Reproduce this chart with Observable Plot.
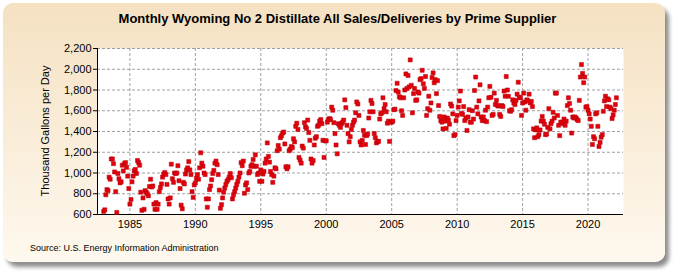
<!DOCTYPE html>
<html>
<head>
<meta charset="utf-8">
<script src="https://cdn.jsdelivr.net/npm/d3@7"></script>
<script src="https://cdn.jsdelivr.net/npm/@observablehq/plot@0.6"></script>
<style>
body{margin:0;background:#fff;font-family:"Liberation Sans",Arial,sans-serif;}
#wrap{position:relative;width:675px;height:275px;overflow:hidden;}
#panel{position:absolute;left:3px;top:3px;width:662px;height:259px;border-radius:10px;background:linear-gradient(#F5E1C2,#FEF8EE);box-shadow:4px 5px 4px rgba(0,0,0,0.45);}
#title{position:absolute;left:0;width:675px;top:11px;text-align:center;font-weight:bold;font-size:13px;color:#000;}
#ylabel{position:absolute;left:45px;top:131px;transform:translate(-50%,-50%) rotate(-90deg);white-space:nowrap;font-size:11px;color:#000;}
#source{position:absolute;left:30px;top:243px;font-size:9px;color:#000;}
#chart{position:absolute;left:0;top:0;}
</style>
</head>
<body>
<div id="wrap">
  <div id="panel"></div>
  <div id="title">Monthly Wyoming No 2 Distillate All Sales/Deliveries by Prime Supplier</div>
  <div id="chart"></div>
  <div id="ylabel">Thousand Gallons per Day</div>
  <div id="source">Source: U.S. Energy Information Administration</div>
</div>
<script>
// Monthly values (thousand gallons per day), starting January 1983
const values1983to1989 = [
  630, 645, 790, 840, 830, 960, 940, 1135, 1135, 1090, 1010, 820,
  620, 995, 945, 905, 915, 1075, 1020, 1090, 1100, 1055, 970, 850,
  700, 745, 915, 970, 1020, 1035, 995, 1120, 1100, 1075, 815, 640,
  760, 650, 830, 815, 800, 780, 870, 940, 865, 875, 700, 650,
  715, 650, 700, 820, 860, 895, 960, 990, 1005, 985, 890, 750,
  700, 760, 1085, 945, 910, 1000, 995, 1000, 1070, 925, 850, 690,
  655, 910, 895, 990, 1030, 1050, 1110, 1030, 985, 820, 765, 885
];
const values1990to1999 = [
  905, 950, 985, 940, 1050, 1195, 1095, 1065, 1000, 985, 750, 670,
  750, 840, 875, 935, 995, 1025, 1095, 1115, 1080, 985, 835, 660,
  695, 760, 815, 855, 890, 920, 935, 960, 995, 955, 750, 790,
  820, 855, 890, 920, 960, 1000, 1100, 1070, 1115, 805, 885, 905,
  840, 1000, 1015, 1065, 1080, 1130, 1065, 1175, 1065, 985, 1000, 920,
  1030, 920, 990, 1015, 1095, 1135, 1290, 1160, 1105, 1015, 985, 910,
  970, 1050, 1040, 1215, 1265, 1230, 1340, 1360, 1385, 1395, 1280, 1060,
  1040, 1060, 1215, 1230, 1255, 1245, 1330, 1300, 1450, 1480, 1420, 1150,
  1125, 1095, 1260, 1240, 1485, 1445, 1430, 1510, 1390, 1315, 1135, 1095,
  1120, 1270, 1335, 1350, 1450, 1460, 1500, 1515, 1475, 1315, 1150, 1310
];
const values2000to2009 = [
  1310, 1490, 1515, 1525, 1515, 1635, 1605, 1485, 1380, 1270, 1185, 1475,
  1460, 1440, 1475, 1490, 1510, 1705, 1630, 1460, 1380, 1300, 1350, 1420,
  1460, 1490, 1510, 1580, 1685, 1665, 1555, 1300, 1270, 1315, 1410, 1365,
  1275, 1360, 1375, 1530, 1590, 1700, 1670, 1590, 1380, 1340, 1290, 1305,
  1305, 1520, 1570, 1580, 1725, 1620, 1660, 1590, 1480, 1500, 1305, 1490,
  1490, 1500, 1610, 1615, 1795, 1865, 1780, 1735, 1725, 1600, 1555, 1725,
  1800, 1955, 1815, 1940, 1830, 2090, 1845, 1580, 1765, 1815, 1700, 1705,
  1780, 1770, 1900, 1910, 1990, 1860, 1815, 1930, 1555, 1620, 1740, 1605,
  1675, 1920, 1965, 1870, 1900, 1765, 1890, 1650, 1545, 1505, 1490, 1425,
  1540, 1500, 1430, 1530, 1510, 1470, 1665, 1645, 1570, 1360, 1370, 1505
];
const values2010to2019 = [
  1555, 1635, 1695, 1790, 1575, 1565, 1640, 1505, 1530, 1410, 1540, 1610,
  1490, 1490, 1600, 1520, 1795, 1925, 1635, 1570, 1695, 1850, 1540, 1505,
  1540, 1505, 1605, 1495, 1635, 1725, 1835, 1730, 1555, 1565, 1770, 1660,
  1700, 1650, 1645, 1565, 1545, 1650, 1640, 1790, 1740, 1930, 1800, 1740,
  1600, 1595, 1610, 1705, 1675, 1660, 1700, 1760, 1875, 1730, 1725, 1555,
  1675, 1770, 1685, 1605, 1705, 1695, 1760, 1675, 1690, 1640, 1425, 1340,
  1415, 1435, 1350, 1370, 1415, 1500, 1545, 1500, 1470, 1370, 1375, 1440,
  1620, 1425, 1475, 1500, 1585, 1530, 1770, 1770, 1555, 1460, 1360, 1490,
  1490, 1475, 1520, 1460, 1500, 1650, 1725, 1670, 1605, 1385, 1540, 1530,
  1540, 1530, 1515, 1505, 1700, 1925, 2045, 1960, 1870, 1925, 1635, 1640
];
const values2020to2022 = [
  1605, 1570, 1520, 1450, 1275, 1350, 1330, 1570, 1580, 1450, 1255, 1295,
  1345, 1370, 1595, 1695, 1740, 1640, 1715, 1705, 1635, 1620, 1525, 1560,
  1605, 1660, 1725
];
const startYear = 1983;
const yTicks = [600, 800, 1000, 1200, 1400, 1600, 1800, 2000, 2200];
const xTickYears = [1985, 1990, 1995, 2000, 2005, 2010, 2015, 2020];

const allValues = [...values1983to1989, ...values1990to1999, ...values2000to2009, ...values2010to2019, ...values2020to2022];
const data = allValues.map((v, i) => ({date: new Date(Date.UTC(startYear, i, 1)), value: v}));
const xTicks = xTickYears.map(y => new Date(Date.UTC(y, 0, 1)));
const xStart = new Date(Date.UTC(1982, 6, 12));
const xEnd = new Date(Date.UTC(2022, 8, 16));

const chart = Plot.plot({
  width: 675,
  height: 275,
  marginLeft: 97,
  marginRight: 52,
  marginTop: 48,
  marginBottom: 61,
  style: {background: "transparent", fontFamily: "'Liberation Sans', Arial, sans-serif", fontSize: "11px", color: "#000"},
  x: {type: "utc", domain: [xStart, xEnd]},
  y: {domain: [600, 2200]},
  marks: [
    Plot.frame({fill: "white", stroke: "none"}),
    Plot.gridY(yTicks, {stroke: "#a0a0a0", strokeOpacity: 1, strokeDasharray: "3,2"}),
    Plot.gridX(xTicks, {stroke: "#a0a0a0", strokeOpacity: 1, strokeDasharray: "3,2"}),
    Plot.axisY(yTicks, {tickFormat: d3.format(","), tickSize: 4, tickPadding: 2, label: null, fontSize: 11}),
    Plot.axisX(xTicks, {tickFormat: d => String(d.getUTCFullYear()), tickSize: 0, tickPadding: 6, label: null, fontSize: 11}),
    Plot.ruleX([xStart], {stroke: "black", strokeWidth: 1}),
    Plot.ruleY([600], {stroke: "black", strokeWidth: 1}),
    Plot.dot(data, {x: "date", y: "value", symbol: "square", r: 2.3, fill: "#e3000b", stroke: "#b5000a", strokeWidth: 0.5})
  ]
});
document.getElementById("chart").appendChild(chart);
</script>
</body>
</html>
